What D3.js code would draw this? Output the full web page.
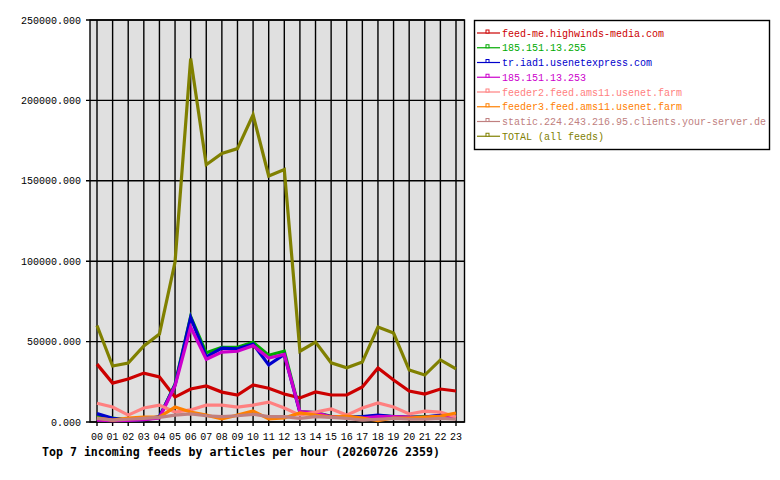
<!DOCTYPE html>
<html>
<head>
<meta charset="utf-8">
<script src="https://cdn.jsdelivr.net/npm/d3@7"></script>
<style>
  body { margin: 0; background: #fff; }
  text { font-family: "Liberation Mono", "DejaVu Sans Mono", monospace; }
  text.title { font-family: "DejaVu Sans Mono", monospace; }
</style>
</head>
<body>
<div id="chart"></div>
<script>
const hours = d3.range(24).map(h => (h < 10 ? "0" : "") + h);
const yTicks = [0, 50000, 100000, 150000, 200000, 250000];

const feedNames = [
  "feed-me.highwinds-media.com",
  "185.151.13.255",
  "tr.iad1.usenetexpress.com",
  "185.151.13.253",
  "feeder2.feed.ams11.usenet.farm",
  "feeder3.feed.ams11.usenet.farm",
  "static.224.243.216.95.clients.your-server.de",
  "TOTAL (all feeds)"
];
const feedColors = ["#cc0000", "#00aa00", "#0000cc", "#cc00cc", "#ff8080", "#ff8000", "#c08080", "#808000"];

const highwinds = [36000,24200,26700,30400,28000,15500,20500,22400,18600,16800,23000,21000,17400,15000,18700,16800,16800,21800,33600,26100,19300,17400,20500,19300];
const ip255 = [3500,2500,1200,1500,3000,23500,65500,43000,46500,46500,49500,41500,44000,6500,5800,3500,3000,3000,4000,3300,3000,3300,3300,3500];
const usenetexpress = [5200,2300,1200,1500,3300,23000,65000,40500,46000,45500,48500,35500,42000,6000,5500,3300,3000,3300,4300,3300,2800,3000,4300,3300];
const ip253 = [1200,800,1000,1500,2500,22500,59000,39000,43500,44000,47500,39800,42000,6400,5800,3300,3000,2500,3300,3300,3000,2800,3000,2500];
const feeder2 = [11700,9300,4300,8700,10500,6200,7500,10500,10500,9300,10500,12400,8700,4300,6200,8100,4300,8700,11800,9300,5000,6800,6200,3100];
const feeder3 = [2500,1200,2500,3100,3100,9300,6200,4300,1900,4300,6800,1900,2500,5600,4300,3000,3700,2500,800,2500,2500,3100,3700,5600];
const yourServer = [2300,1200,1700,2300,2900,4300,5000,3900,3300,3900,4800,3300,3300,2300,3300,2900,2300,1200,1700,2300,1700,1700,2300,1700];
const total = [60000,34800,36700,47300,54700,99500,226000,160000,167000,170000,191000,153000,157000,44000,49700,36800,33700,37300,59000,55300,32300,29200,38600,33000];

const series = [highwinds, ip255, usenetexpress, ip253, feeder2, feeder3, yourServer, total];

const width = 780, height = 480;
const svg = d3.select("#chart").append("svg")
  .attr("width", width)
  .attr("height", height);

const x = d3.scaleLinear().domain([0, 23]).range([97, 456]);
const y = d3.scaleLinear().domain([0, 250000]).range([422, 20]);
const plotLeft = 90, plotRight = 464.5;

// plot background
svg.append("rect")
  .attr("x", plotLeft).attr("y", y(250000))
  .attr("width", plotRight - plotLeft).attr("height", y(0) - y(250000))
  .attr("fill", "#e0e0e0");

// grid
const grid = svg.append("g").attr("stroke", "#000").attr("stroke-width", 1.4);
grid.selectAll("line.v").data(hours).enter().append("line")
  .attr("x1", (d, i) => x(i)).attr("x2", (d, i) => x(i))
  .attr("y1", y(250000)).attr("y2", y(0) + 4);
grid.selectAll("line.h").data(yTicks).enter().append("line")
  .attr("x1", plotLeft - 4).attr("x2", plotRight)
  .attr("y1", d => y(d)).attr("y2", d => y(d));

// frame
svg.append("rect")
  .attr("x", plotLeft).attr("y", y(250000))
  .attr("width", plotRight - plotLeft).attr("height", y(0) - y(250000))
  .attr("fill", "none").attr("stroke", "#000").attr("stroke-width", 1.4);

// axis labels
svg.append("g").selectAll("text").data(yTicks).enter().append("text")
  .attr("x", 81).attr("y", d => y(d))
  .attr("dy", "0.35em")
  .attr("text-anchor", "end")
  .attr("font-size", 10)
  .text(d3.format(".3f"));

svg.append("g").selectAll("text").data(hours).enter().append("text")
  .attr("x", (d, i) => x(i)).attr("y", 436)
  .attr("dy", "0.35em")
  .attr("text-anchor", "middle")
  .attr("font-size", 10)
  .text(d => d);

// lines
const line = d3.line().x((d, i) => x(i)).y(d => y(d));
svg.append("g").selectAll("path").data(series).enter().append("path")
  .attr("d", line)
  .attr("fill", "none")
  .attr("stroke", (d, i) => feedColors[i])
  .attr("stroke-width", 3.2);

// legend
const legend = svg.append("g");
legend.append("rect")
  .attr("x", 474.5).attr("y", 20.5).attr("width", 295).attr("height", 129)
  .attr("fill", "#fff").attr("stroke", "#000").attr("stroke-width", 1.4);

const rows = legend.selectAll("g").data(feedNames).enter().append("g")
  .attr("transform", (d, i) => `translate(0, ${33 + i * 14.75})`);
rows.append("line")
  .attr("x1", 477).attr("x2", 500).attr("y1", 0).attr("y2", 0)
  .attr("stroke", (d, i) => feedColors[i]).attr("stroke-width", 1.2);
rows.append("rect")
  .attr("x", 486).attr("y", -3).attr("width", 3).attr("height", 3)
  .attr("fill", "#fff")
  .attr("stroke", (d, i) => feedColors[i]).attr("stroke-width", 1);
rows.append("text")
  .attr("x", 502).attr("y", 0).attr("dy", "0.35em")
  .attr("font-size", 10)
  .attr("fill", (d, i) => feedColors[i])
  .text(d => d);

// title
svg.append("text")
  .attr("class", "title")
  .attr("x", 42).attr("y", 456)
  .attr("font-size", 11.6)
  .attr("font-weight", "bold")
  .text("Top 7 incoming feeds by articles per hour (20260726 2359)");
</script>
</body>
</html>
